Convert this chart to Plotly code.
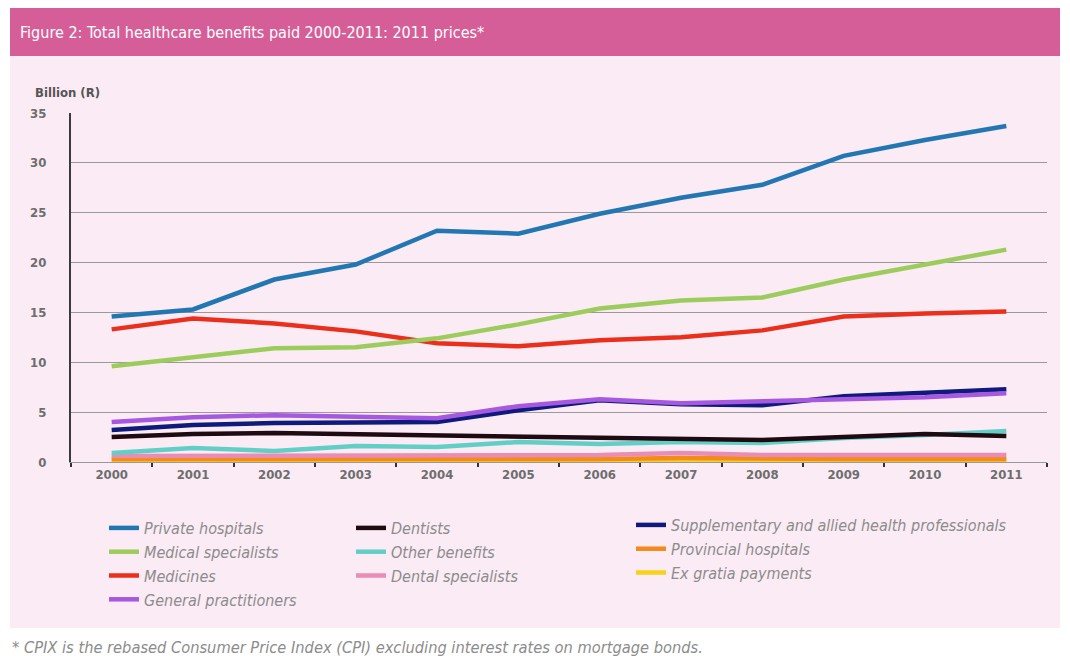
import plotly.graph_objects as go

years = [str(y) for y in range(2000, 2012)]

private_hospitals = [14.6, 15.3, 18.3, 19.8, 23.2, 22.9, 24.9, 26.5, 27.8, 30.7, 32.3, 33.7]
medical_specialists = [9.6, 10.5, 11.4, 11.5, 12.4, 13.8, 15.4, 16.2, 16.5, 18.3, 19.8, 21.3]
medicines = [13.3, 14.4, 13.9, 13.1, 11.9, 11.6, 12.2, 12.5, 13.2, 14.6, 14.9, 15.1]
general_practitioners = [4.0, 4.5, 4.7, 4.5, 4.4, 5.6, 6.3, 5.9, 6.1, 6.2, 6.5, 6.9]
supplementary = [3.2, 3.7, 3.9, 4.0, 4.0, 5.2, 6.2, 5.8, 5.7, 6.6, 7.0, 7.3]
dentists = [2.5, 2.8, 2.9, 2.8, 2.6, 2.6, 2.5, 2.4, 2.2, 2.5, 2.8, 2.6]
other_benefits = [0.9, 1.4, 1.1, 1.6, 1.5, 2.0, 1.8, 2.0, 1.9, 2.4, 2.7, 3.1]
dental_specialists = [0.6, 0.6, 0.6, 0.6, 0.6, 0.7, 0.7, 0.9, 0.7, 0.7, 0.7, 0.7]
provincial_hospitals = [0.3, 0.3, 0.2, 0.3, 0.3, 0.3, 0.3, 0.4, 0.3, 0.3, 0.3, 0.3]
ex_gratia = [0.1, 0.1, 0.1, 0.1, 0.1, 0.1, 0.1, 0.1, 0.1, 0.1, 0.1, 0.1]

y_ticks = [0, 5, 10, 15, 20, 25, 30, 35]

FONT = "Liberation Sans Narrow, DejaVu Sans Condensed, Roboto, sans-serif"

# (name, values, colour, legend) in drawing order (bottom first)
series = [
    ("Ex gratia payments", ex_gratia, "#f6d21a", "legend3"),
    ("Provincial hospitals", provincial_hospitals, "#f28a1c", "legend3"),
    ("Dental specialists", dental_specialists, "#ea8db4", "legend2"),
    ("Other benefits", other_benefits, "#62cfc7", "legend2"),
    ("Dentists", dentists, "#1e0a10", "legend2"),
    ("Supplementary and allied health professionals", supplementary, "#0e1b7c", "legend3"),
    ("General practitioners", general_practitioners, "#a758e0", "legend"),
    ("Medicines", medicines, "#ea2f1c", "legend"),
    ("Medical specialists", medical_specialists, "#9ccc5c", "legend"),
    ("Private hospitals", private_hospitals, "#2277b3", "legend"),
]
legend_rank = {
    "Private hospitals": 1, "Medical specialists": 2, "Medicines": 3, "General practitioners": 4,
    "Dentists": 1, "Other benefits": 2, "Dental specialists": 3,
    "Supplementary and allied health professionals": 1, "Provincial hospitals": 2, "Ex gratia payments": 3,
}

fig = go.Figure()
for name, vals, col, leg in series:
    fig.add_trace(go.Scatter(
        x=years, y=vals, name=name, mode="lines",
        line=dict(color=col, width=4.5),
        legend=leg, legendrank=legend_rank[name], legendgroup=name,
    ))

W, H = 1070, 656
L, R, T, B = 71, 1047, 113, 462
pw, ph = R - L, B - T


def px(x):
    return (x - L) / pw


def py(y):
    return (B - y) / ph


legend_common = dict(
    bgcolor="rgba(0,0,0,0)", font=dict(family=FONT, size=16, color="#8c8c8c", style="italic"),
    traceorder="grouped", tracegroupgap=0, yanchor="top", xanchor="left", itemwidth=30,
)

fig.update_layout(
    width=W, height=H,
    margin=dict(l=L, r=W - R, t=T, b=H - B),
    paper_bgcolor="white",
    plot_bgcolor="rgba(0,0,0,0)",
    font=dict(family=FONT),
    showlegend=True,
    legend=dict(x=px(104), y=py(511), **legend_common),
    legend2=dict(x=px(351), y=py(511), **legend_common),
    legend3=dict(x=px(631), y=py(508), **legend_common),
    xaxis=dict(
        type="category", range=[-0.5, 11.5], tickson="boundaries",
        ticks="outside", ticklen=4, tickcolor="#333", tickwidth=1.5,
        showline=True, linecolor="#999", linewidth=1,
        showgrid=False,
        tickfont=dict(family=FONT, size=13, color="#6e6e6e", weight="bold"),
    ),
    yaxis=dict(
        range=[0, 35], tickvals=y_ticks, showgrid=True, gridcolor="#9a9a9a", gridwidth=1,
        zeroline=False, showline=True, linecolor="#3a3a3a", linewidth=2,
        ticks="", ticklabelstandoff=20,
        tickfont=dict(family=FONT, size=13, color="#6e6e6e", weight="bold"),
    ),
    shapes=[
        dict(type="rect", xref="paper", yref="paper", x0=px(10), x1=px(1060), y0=py(628), y1=py(56),
             fillcolor="#fbebf4", line=dict(width=0), layer="below"),
        dict(type="rect", xref="paper", yref="paper", x0=px(10), x1=px(1060), y0=py(56), y1=py(8),
             fillcolor="#d65e98", line=dict(width=0), layer="below"),
    ],
    annotations=[
        dict(text="Figure 2: Total healthcare benefits paid 2000-2011: 2011 prices*", xref="paper", yref="paper",
             x=px(18), y=py(32), xanchor="left", yanchor="middle", showarrow=False,
             font=dict(family=FONT, size=16, color="white")),
        dict(text="Billion (R)", xref="paper", yref="paper", x=px(33), y=py(93), xanchor="left", yanchor="middle",
             showarrow=False, font=dict(family=FONT, size=13, color="#555", weight="bold")),
        dict(text="* CPIX is the rebased Consumer Price Index (CPI) excluding interest rates on mortgage bonds.",
             xref="paper", yref="paper", x=px(10), y=py(647), xanchor="left", yanchor="middle", showarrow=False,
             font=dict(family=FONT, size=16.3, color="#8c8c8c", style="italic")),
    ],
)

fig.write_html("out.html", config={"displayModeBar": False},
               post_script="document.body.style.margin='0';")
